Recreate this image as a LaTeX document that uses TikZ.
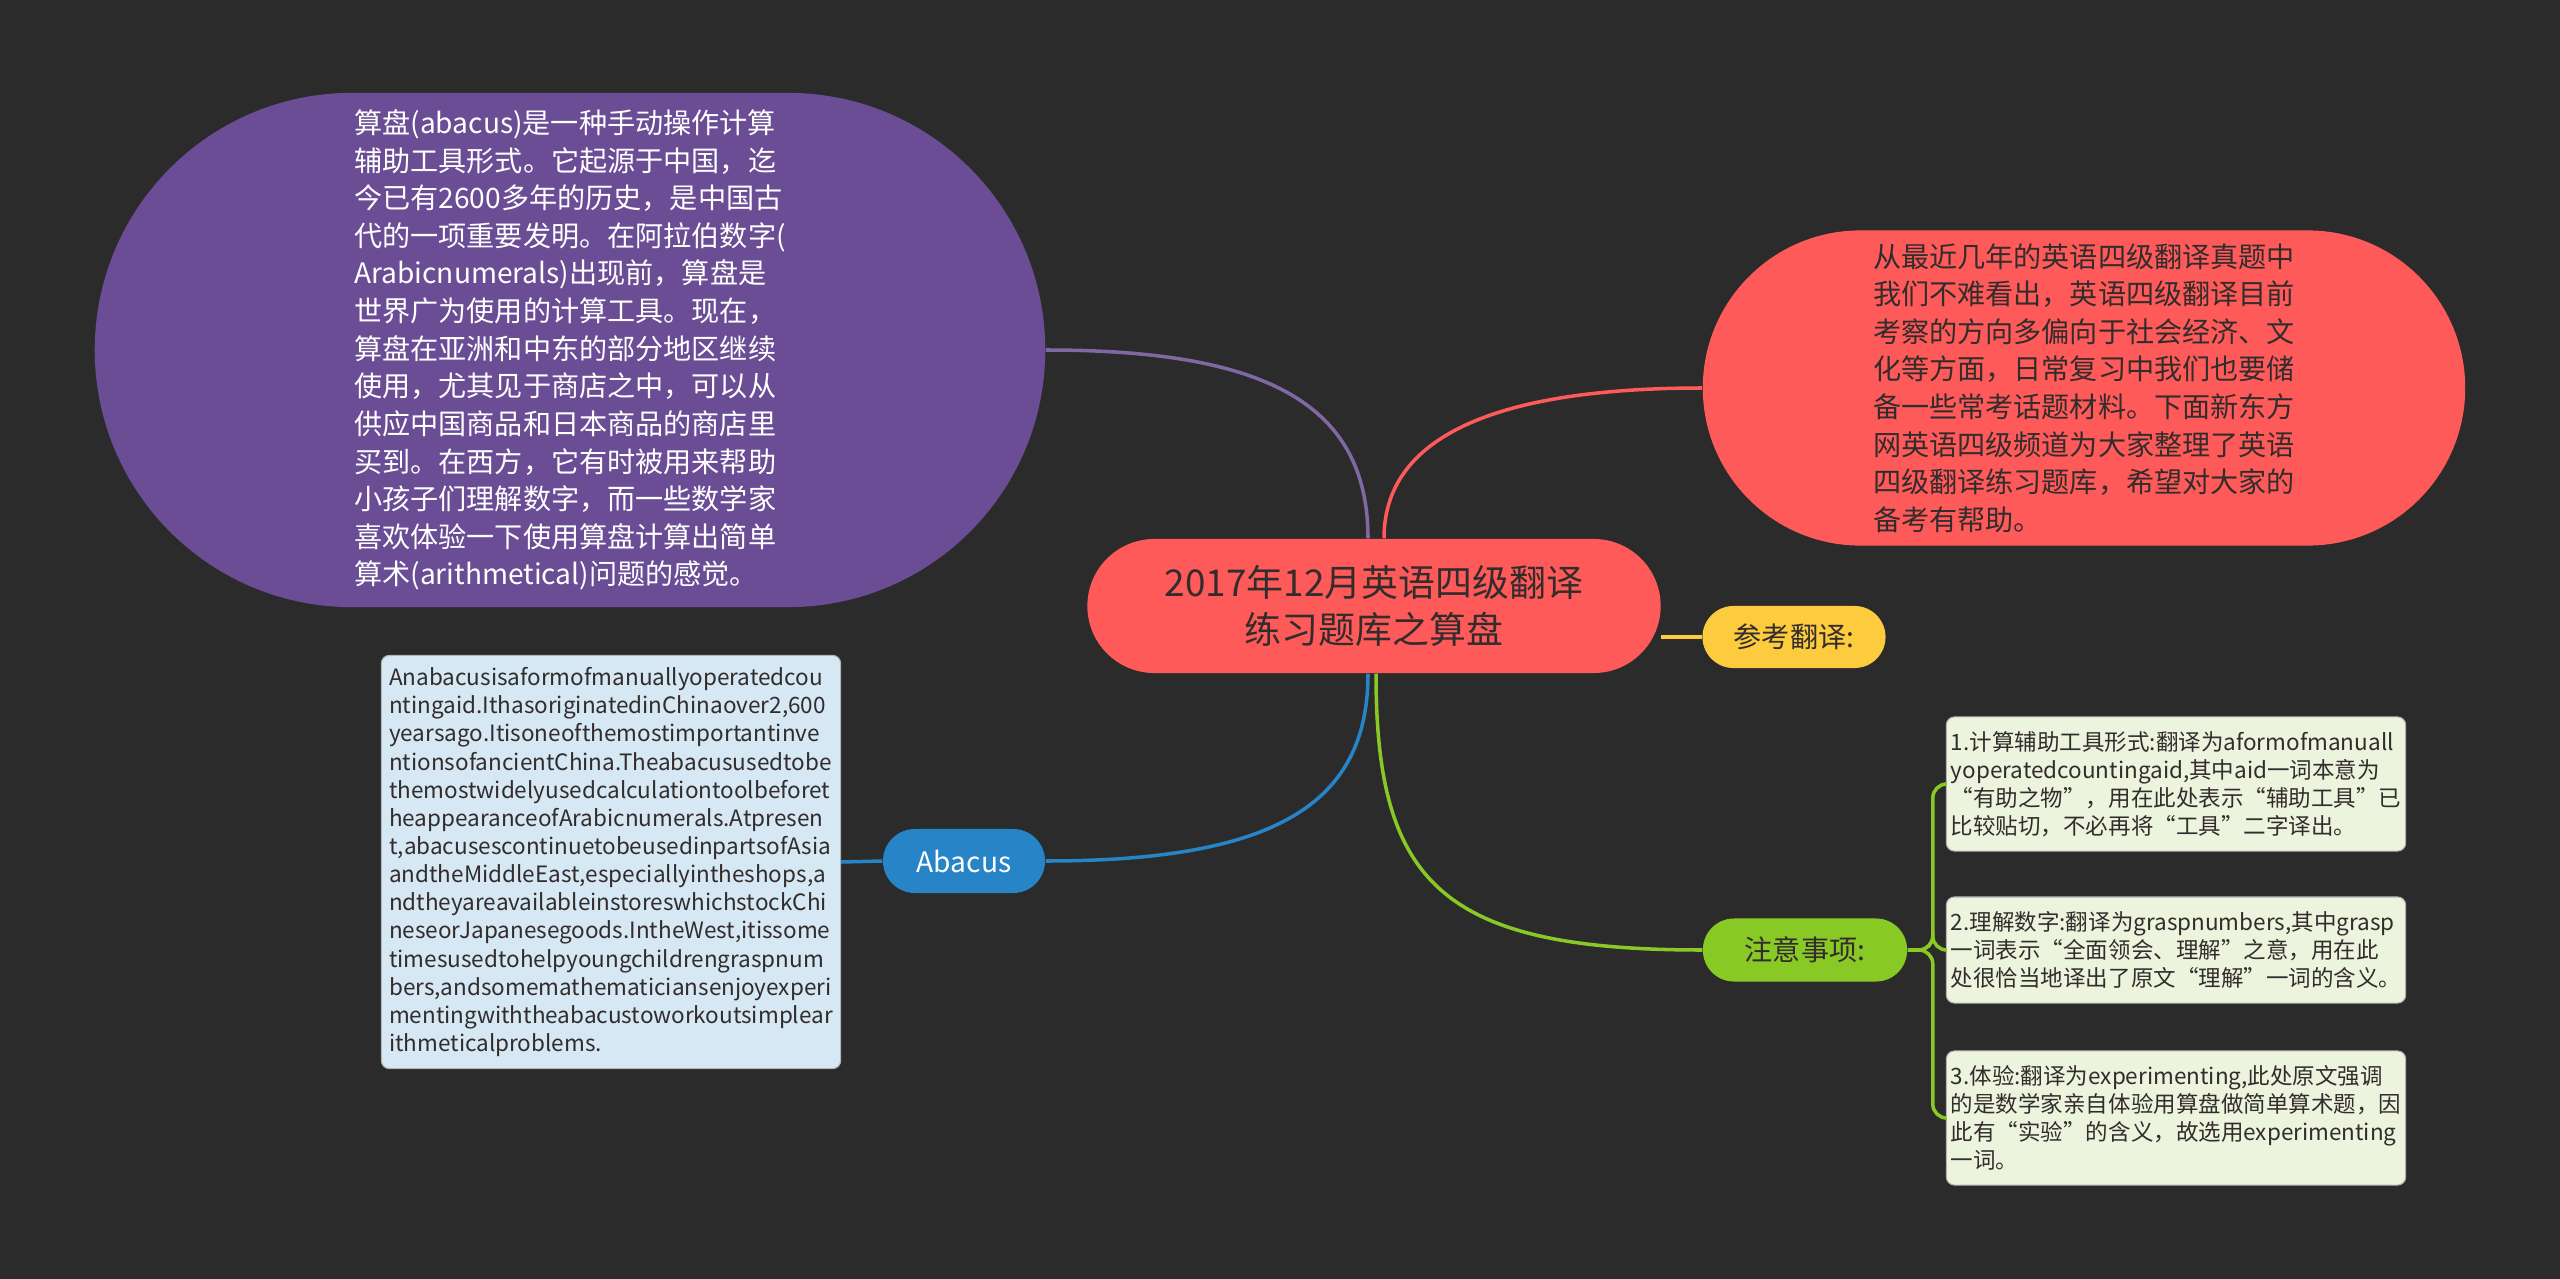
\documentclass[tikz,border=0pt]{standalone}
\usepackage{fontspec}
\setmainfont{Noto Sans CJK SC}

\begin{document}
\begin{tikzpicture}[
    x=0.01cm, y=-0.01cm,
    topic/.style={rectangle, rounded corners=0.67cm, minimum width=5.73cm, minimum height=1.34cm,
        inner sep=0pt, align=center, fill=mmred, text=mmtext, font=\fontsize{10.5pt}{13.4pt}\selectfont},
    bubble/.style={rectangle, inner sep=0pt, align=left, font=\fontsize{8pt}{10.7pt}\selectfont},
    branchtag/.style={rectangle, inner sep=0pt, align=center, font=\fontsize{8pt}{10pt}\selectfont},
    leaf/.style={rectangle, rounded corners=0.08cm, minimum width=4.59cm, inner sep=0pt, align=left,
        text=mmtext, draw=black!30, line width=0.3pt, font=\fontsize{6.4pt}{8pt}\selectfont},
    link/.style={line width=1pt}
]
\definecolor{mmbg}{RGB}{43,43,43}
\definecolor{mmtext}{RGB}{51,44,44}
\definecolor{mmred}{RGB}{254,90,90}
\definecolor{mmpurple}{RGB}{106,77,148}
\definecolor{mmyellow}{RGB}{253,203,62}
\definecolor{mmgreen}{RGB}{137,201,38}
\definecolor{mmblue}{RGB}{38,132,199}
\definecolor{mmpaleblue}{RGB}{213,232,244}
\definecolor{mmpalegreen}{RGB}{237,244,222}

\useasboundingbox (0,0) rectangle (2560,1279);
\fill[mmbg] (0,0) rectangle (2560,1279);

% ======================
% Central topic
% ======================
\node[topic] (central) at (1374,606) {2017年12月英语四级翻译\\练习题库之算盘};

% ======================
% Main branches
% ======================
\node[bubble, fill=mmpurple, text=white, rounded corners=2.57cm, minimum width=9.5cm, minimum height=5.14cm]
    (def) at (570,350) {%
算盘(abacus)是一种手动操作计算\\
辅助工具形式。它起源于中国，迄\\
今已有2600多年的历史，是中国古\\
代的一项重要发明。在阿拉伯数字(\\
Arabicnumerals)出现前，算盘是\\
世界广为使用的计算工具。现在，\\
算盘在亚洲和中东的部分地区继续\\
使用，尤其见于商店之中，可以从\\
供应中国商品和日本商品的商店里\\
买到。在西方，它有时被用来帮助\\
小孩子们理解数字，而一些数学家\\
喜欢体验一下使用算盘计算出简单\\
算术(arithmetical)问题的感觉。};

\node[bubble, fill=mmred, text=mmtext, rounded corners=1.575cm, minimum width=7.62cm, minimum height=3.15cm]
    (intro) at (2084,388) {%
从最近几年的英语四级翻译真题中\\
我们不难看出，英语四级翻译目前\\
考察的方向多偏向于社会经济、文\\
化等方面，日常复习中我们也要储\\
备一些常考话题材料。下面新东方\\
网英语四级频道为大家整理了英语\\
四级翻译练习题库，希望对大家的\\
备考有帮助。};

\node[branchtag, fill=mmyellow, text=mmtext, rounded corners=0.31cm, minimum width=1.83cm, minimum height=0.62cm]
    (ref) at (1794,637) {参考翻译:};
\node[branchtag, fill=mmgreen, text=mmtext, rounded corners=0.31cm, minimum width=2.04cm, minimum height=0.63cm]
    (note) at (1805,950) {注意事项:};
\node[branchtag, fill=mmblue, text=white, rounded corners=0.32cm, minimum width=1.62cm, minimum height=0.64cm]
    (abacus) at (964,861) {Abacus};

% ======================
% Leaves
% ======================
\node[leaf, fill=mmpaleblue, minimum height=4.13cm] (entext) at (611,862) {%
Anabacusisaformofmanuallyoperatedcou\\
ntingaid.IthasoriginatedinChinaover2,600\\
yearsago.Itisoneofthemostimportantinve\\
ntionsofancientChina.Theabacususedtobe\\
themostwidelyusedcalculationtoolbeforet\\
heappearanceofArabicnumerals.Atpresen\\
t,abacusescontinuetobeusedinpartsofAsia\\
andtheMiddleEast,especiallyintheshops,a\\
ndtheyareavailableinstoreswhichstockChi\\
neseorJapanesegoods.IntheWest,itissome\\
timesusedtohelpyoungchildrengraspnum\\
bers,andsomemathematiciansenjoyexperi\\
mentingwiththeabacustoworkoutsimplear\\
ithmeticalproblems.};

\node[leaf, fill=mmpalegreen, minimum height=1.34cm] (n1) at (2176,784) {%
1.计算辅助工具形式:翻译为aformofmanuall\\
yoperatedcountingaid,其中aid一词本意为\\
“有助之物”，用在此处表示“辅助工具”已\\
比较贴切，不必再将“工具”二字译出。};
\node[leaf, fill=mmpalegreen, minimum height=1.06cm] (n2) at (2176,950) {%
2.理解数字:翻译为graspnumbers,其中grasp\\
一词表示“全面领会、理解”之意，用在此\\
处很恰当地译出了原文“理解”一词的含义。};
\node[leaf, fill=mmpalegreen, minimum height=1.34cm] (n3) at (2176,1118) {%
3.体验:翻译为experimenting,此处原文强调\\
的是数学家亲自体验用算盘做简单算术题，因\\
此有“实验”的含义，故选用experimenting\\
一词。};

% ======================
% Connections
% ======================
\draw[link, mmpurple!85!white] ([xshift=-0.06cm]central.north) .. controls +(0,-140) and +(210,0) .. (def.east);
\draw[link, mmred] ([xshift=0.1cm]central.north) .. controls +(0,-100) and +(-210,0) .. (intro.west);
\draw[link, mmyellow] (ref.west) -- (ref.west -| central.east);
\draw[link, mmblue] ([xshift=-0.06cm]central.south) .. controls +(0,130) and +(230,0) .. (abacus.east);
\draw[link, mmgreen] ([xshift=0.02cm]central.south) .. controls +(0,210) and +(-260,0) .. (note.west);
\draw[link, mmblue] (abacus.west) -- (entext.east);

\coordinate (fork) at ([xshift=0.25cm]note.east);
\foreach \t in {n1,n2,n3} {
    \draw[link, mmgreen, rounded corners=0.14cm] (note.east) -- (fork) -- (fork |- \t.west) -- (\t.west);
}

\end{tikzpicture}
\end{document}
